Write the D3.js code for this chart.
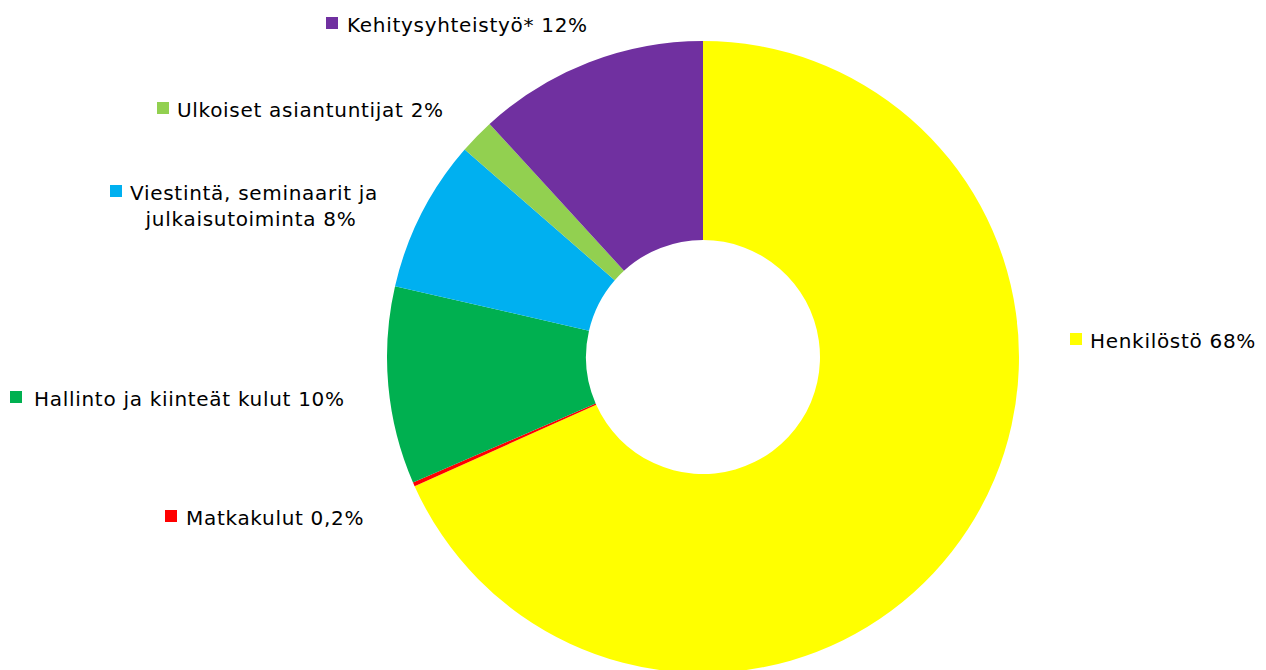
<!DOCTYPE html>
<html>
<head>
<meta charset="utf-8">
<script src="https://cdn.jsdelivr.net/npm/d3@7"></script>
<style>
  body { margin: 0; background: #fff; }
  text { font-family: "DejaVu Sans", Verdana, sans-serif; }
</style>
</head>
<body>
<div id="chart"></div>
<script>
// slice data, clockwise from 12 o'clock
const categories = ["Henkilöstö", "Matkakulut", "Hallinto ja kiinteät kulut", "Viestintä, seminaarit ja julkaisutoiminta", "Ulkoiset asiantuntijat", "Kehitysyhteistyö*"];
const values = [68.3, 0.2, 10.1, 7.8, 1.8, 11.8];
const valueLabels = ["68%", "0,2%", "10%", "8%", "2%", "12%"];
const colors = ["#FFFF00", "#FF0000", "#00B050", "#00B0F0", "#92D050", "#7030A0"];

// label lines as excel wrapped them
const labelLines = [
    ["Henkilöstö 68%"],
    ["Matkakulut 0,2%"],
    ["Hallinto ja kiinteät kulut 10%"],
    ["Viestintä, seminaarit ja", "julkaisutoiminta 8%"],
    ["Ulkoiset asiantuntijat 2%"],
    ["Kehitysyhteistyö* 12%"]
];
// top-left of legend key for each label, and gap to text
const labelAnchors = [[1070, 333], [165, 510], [10, 391], [110, 185], [157, 102], [326, 17]];
const textGap = [20, 21, 24, 22, 20, 21];

const width = 1266;
const height = 670;
const cx = 703, cy = 357;
const outerR = 316, innerR = 117;

const svg = d3.select("#chart")
    .append("svg")
    .attr("width", width)
    .attr("height", height);

const pie = d3.pie().sort(null).value(function(d) { return d; });
const arc = d3.arc().innerRadius(innerR).outerRadius(outerR);

const slices = pie(values);

svg.append("g")
    .attr("transform", "translate(" + cx + "," + cy + ")")
    .selectAll("path")
    .data(slices)
    .enter()
    .append("path")
    .attr("d", arc)
    .attr("fill", function(d, i) { return colors[i]; });

//labels with little colour keys
const labels = svg.append("g");

labelLines.forEach(function(lines, i) {
    const x = labelAnchors[i][0];
    const y = labelAnchors[i][1];
    const g = labels.append("g").attr("transform", "translate(" + x + "," + y + ")");

    g.append("rect")
        .attr("width", 12)
        .attr("height", 12)
        .attr("fill", colors[i]);

    const t = g.append("text")
        .attr("font-size", "20px")
        .attr("letter-spacing", "0.7px")
        .attr("fill", "#000");

    if (lines.length === 1) {
        t.append("tspan").attr("x", textGap[i]).attr("y", 15).text(lines[0]);
    } else {
        // centred block, like excel does for wrapped labels
        t.attr("text-anchor", "middle");
        t.append("tspan").attr("x", 144).attr("y", 15).text(lines[0]);
        t.append("tspan").attr("x", 141).attr("y", 41).text(lines[1]);
    }
});
</script>
</body>
</html>
